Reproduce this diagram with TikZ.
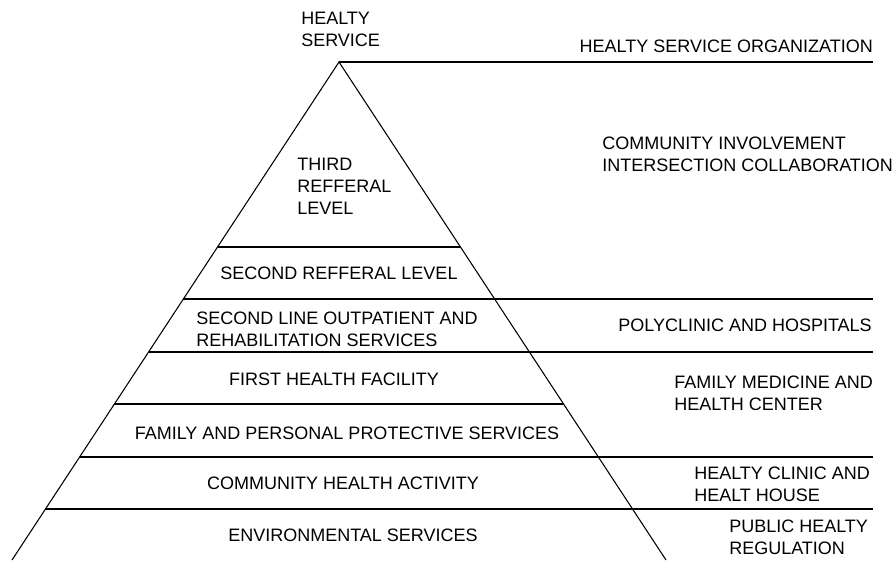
\documentclass[tikz,border=0pt]{standalone}
\usepackage{fontspec}
\setmainfont{Liberation Sans}
\usetikzlibrary{calc}

\begin{document}
\begin{tikzpicture}[x=0.75pt, y=-0.75pt,
		lbl/.style={inner sep=0pt, font=\fontsize{13.5}{16.5}\selectfont},
		lblw/.style={lbl, anchor=west, align=left},
		rule/.style={line width=0.8pt}]
	\useasboundingbox (0,0) rectangle (895,561);
	% pyramid outline
	\coordinate (apex) at (339,62);
	\coordinate (bl) at (12,560);
	\coordinate (br) at (666,560);
	\coordinate (edge) at (873,62);
	\draw[rule] (bl) -- (apex) -- (br);
	\draw[rule] (apex) -- (edge);
	% level lines: t along the sides, e = 1 if the line runs out to the right
	\foreach \n/\t/\e in {a/0.3715/0, b/0.4759/1, c/0.5823/1, d/0.6867/0, e/0.7932/1, f/0.8976/1}
	{
		\coordinate (l\n) at ($(apex)!\t!(bl)$);
		\coordinate (r\n) at ($(apex)!\t!(br)$);
		\ifnum\e=1
			\draw[rule] (l\n) -- (l\n -| edge);
		\else
			\draw[rule] (l\n) -- (r\n);
		\fi
	}
	% pyramid labels
	\node[lblw] (top) at (301,29) {HEALTY\\SERVICE};
	\node[lblw] (third) at (297,186) {THIRD\\REFFERAL\\LEVEL};
	\node[lbl] (second) at (339,273) {SECOND REFFERAL LEVEL};
	\node[lblw] (outpat) at (196,329) {SECOND LINE OUTPATIENT AND\\REHABILITATION SERVICES};
	\node[lbl] (first) at (334,379) {FIRST HEALTH FACILITY};
	\node[lbl] (family) at (347,433) {FAMILY AND PERSONAL PROTECTIVE SERVICES};
	\node[lbl] (commun) at (343,483) {COMMUNITY HEALTH ACTIVITY};
	\node[lbl] (environ) at (353,535) {ENVIRONMENTAL SERVICES};
	% right hand labels
	\node[lbl, anchor=east] (org) at (873,46) {HEALTY SERVICE ORGANIZATION};
	\node[lblw] (involve) at (602,154) {COMMUNITY INVOLVEMENT\\INTERSECTION COLLABORATION};
	\node[lbl, anchor=east] (poly) at (872,325) {POLYCLINIC AND HOSPITALS};
	\node[lblw] (medic) at (674,393) {FAMILY MEDICINE AND\\HEALTH CENTER};
	\node[lblw] (clinic) at (694,484) {HEALTY CLINIC AND\\HEALT HOUSE};
	\node[lblw] (public) at (729,537) {PUBLIC HEALTY\\REGULATION};
\end{tikzpicture}
\end{document}
